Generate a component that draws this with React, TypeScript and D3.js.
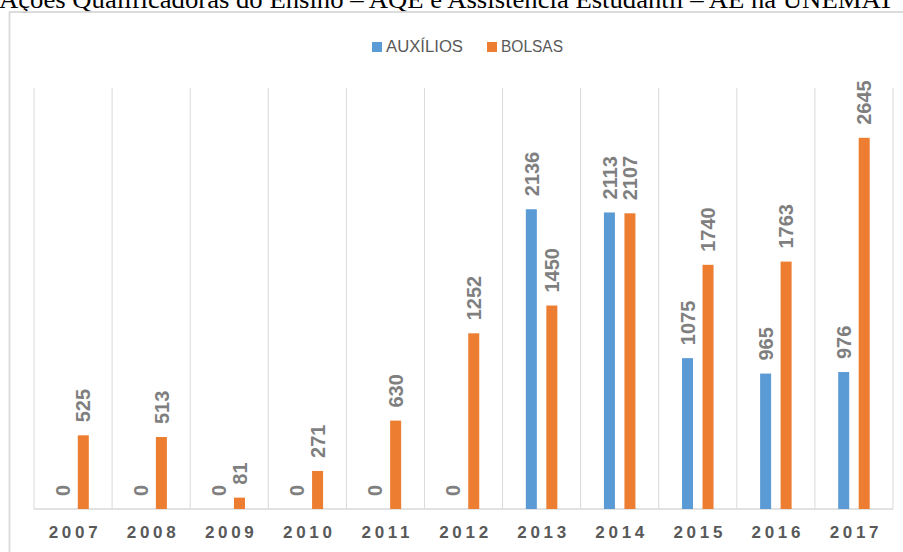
import React from "react";
import { scaleBand, scaleLinear } from "d3";

const years = ["2007", "2008", "2009", "2010", "2011", "2012", "2013", "2014", "2015", "2016", "2017"];
const auxilios = [0, 0, 0, 0, 0, 0, 2136, 2113, 1075, 965, 976];
const bolsas = [525, 513, 81, 271, 630, 1252, 1450, 2107, 1740, 1763, 2645];
const seriesNames = ["AUXÍLIOS", "BOLSAS"];
const seriesColors = ["#5b9bd5", "#ed7d31"];
const title = "Ações Qualificadoras do Ensino – AQE e Assistência Estudantil – AE na UNEMAT";

const W = 903;
const H = 552;
const plot = { left: 34, right: 893, top: 88, bottom: 509 };

export default function App() {
  const x = scaleBand().domain(years).range([plot.left, plot.right]).paddingInner(0).paddingOuter(0);
  const xInner = scaleBand()
    .domain(seriesNames)
    .range([0, x.bandwidth()])
    .paddingInner(0.463)
    .paddingOuter(1.136);
  const y = scaleLinear().domain([0, 3000]).range([plot.bottom, plot.top]);

  const series = [auxilios, bolsas];
  const gridXs = years.map((yr) => x(yr)!).concat([plot.right]);

  return (
    <svg
      width={W}
      height={H}
      style={{ position: "absolute", left: 0, top: 0, background: "#fff" }}
    >
      {/* title, cut at the top like in the original */}
      <text
        x={-1}
        y={7.5}
        fontFamily="'Liberation Serif', 'Times New Roman', serif"
        fontSize={26}
        fill="#000"
        textLength={895}
        lengthAdjust="spacingAndGlyphs"
      >
        {title}
      </text>

      {/* chart frame */}
      <rect x={9.5} y={12} width={W + 10} height={H + 10} fill="none" stroke="#d9d9d9" strokeWidth={1.8} />

      {/* legend */}
      <g fontFamily="'Liberation Sans', Arial, sans-serif" fontSize={16} fill="#595959">
        <rect x={372} y={42} width={10} height={10} fill={seriesColors[0]} />
        <text x={386} y={51.7} textLength={77} lengthAdjust="spacingAndGlyphs">{seriesNames[0]}</text>
        <rect x={487} y={42} width={10} height={10} fill={seriesColors[1]} />
        <text x={501} y={51.7} textLength={62} lengthAdjust="spacingAndGlyphs">{seriesNames[1]}</text>
      </g>

      {/* vertical gridlines */}
      {gridXs.map((gx, i) => (
        <line key={i} x1={gx} x2={gx} y1={plot.top} y2={plot.bottom} stroke="#d9d9d9" strokeWidth={1} />
      ))}
      <line x1={plot.left} x2={plot.right} y1={plot.bottom} y2={plot.bottom} stroke="#d9d9d9" strokeWidth={1.5} />

      {/* bars */}
      {years.map((yr, i) => (
        <g key={yr}>
          {series.map((vals, si) => {
            const v = vals[i];
            const bx = x(yr)! + xInner(seriesNames[si])!;
            return (
              <rect
                key={si}
                x={bx}
                y={y(v)}
                width={xInner.bandwidth()}
                height={plot.bottom - y(v)}
                fill={seriesColors[si]}
              />
            );
          })}
        </g>
      ))}

      {/* value labels */}
      <g fontFamily="'Liberation Sans', Arial, sans-serif" fontWeight="bold" fontSize={20} fill="#7f7f7f">
        {years.map((yr, i) =>
          series.map((vals, si) => {
            const v = vals[i];
            const cx = x(yr)! + xInner(seriesNames[si])! + xInner.bandwidth() / 2;
            const ty = y(v) - 13;
            return (
              <text
                key={yr + si}
                transform={`translate(${cx},${ty}) rotate(-90)`}
                dy="0.36em"
                textAnchor="start"
              >
                {v}
              </text>
            );
          })
        )}
      </g>

      {/* year labels */}
      <g fontFamily="'Liberation Sans', Arial, sans-serif" fontWeight="bold" fontSize={17} fill="#595959" letterSpacing={3.7}>
        {years.map((yr) => (
          <text key={yr} x={x(yr)! + x.bandwidth() / 2 + 2} y={538} textAnchor="middle">
            {yr}
          </text>
        ))}
      </g>
    </svg>
  );
}
